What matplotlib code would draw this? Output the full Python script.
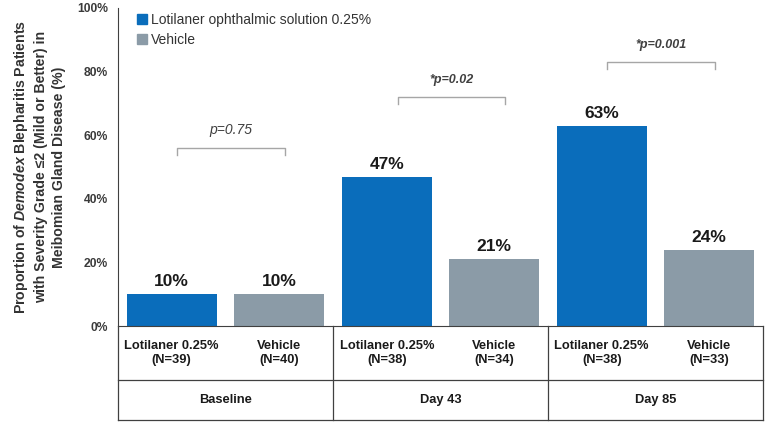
import matplotlib.pyplot as plt
from matplotlib.patches import Patch

plt.rcParams['font.family'] = ['Liberation Sans', 'DejaVu Sans']
plt.rcParams['mathtext.fontset'] = 'custom'
plt.rcParams['mathtext.bfit'] = 'Liberation Sans:italic:bold'
plt.rcParams['mathtext.rm'] = 'Liberation Sans'

# donnees
groupes = ['Baseline', 'Day 43', 'Day 85']
traitements = ['Lotilaner 0.25%', 'Vehicle']
lotilaner = [10, 47, 63]
vehicle = [10, 21, 24]
n_lotilaner = [39, 38, 38]
n_vehicle = [40, 34, 33]
p_valeurs = ['p=0.75', '*p=0.02', '*p=0.001']
p_significatif = [False, True, True]

bleu = '#0a6dbb'
gris = '#8b9ba7'
txt = '#1a1a1a'

fig = plt.figure(figsize=(7.67, 4.23), dpi=100)
ax = fig.add_axes([118/767, 97/423, 645/767, 318/423])

x_lot = [2*i + 0.5 for i in range(3)]
x_veh = [2*i + 1.5 for i in range(3)]
larg = 0.84

ax.bar(x_lot, lotilaner, width=larg, color=bleu, zorder=2)
ax.bar(x_veh, vehicle, width=larg, color=gris, zorder=2)

for x, v in zip(x_lot + x_veh, lotilaner + vehicle):
    ax.text(x, v + 1.5, '%d%%' % v, ha='center', va='bottom',
            fontsize=12.5, fontweight='bold', color=txt)

# crochets des p-values
decal = [0.05, 0.1, 0.05]
for i in range(3):
    h = max(lotilaner[i], vehicle[i]) + [46, 25, 20][i]
    x1 = x_lot[i] + decal[i]
    x2 = x_veh[i] + decal[i]
    ax.plot([x1, x1, x2, x2], [h - 2.2, h, h, h - 2.2], color='#a6a6a6', lw=1)
    ax.text((x1 + x2) / 2, h + 3.5, p_valeurs[i], ha='center', va='bottom',
            fontsize=9 if p_significatif[i] else 10, style='italic',
            fontweight='bold' if p_significatif[i] else 'normal', color='#404040')

ax.set_xlim(0, 6)
ax.set_ylim(0, 100)
ax.set_yticks(range(0, 101, 20))
ax.set_yticklabels(['%d%%' % v for v in range(0, 101, 20)],
                   fontsize=8.7, fontweight='bold', color='#3a3a3a')
ax.tick_params(axis='y', length=0, pad=7)
ax.set_xticks([])
for s in ['top', 'right']:
    ax.spines[s].set_visible(False)
ax.spines['left'].set_color('#404040')
ax.spines['bottom'].set_color('#404040')

ax.set_ylabel('Proportion of $\\mathbfit{Demodex}$ Blepharitis Patients\n'
              'with Severity Grade ≤2 (Mild or Better) in\nMeibomian Gland Disease (%)',
              fontsize=10.2, fontweight='bold', color='#333333', labelpad=8,
              linespacing=1.35)

leg = ax.legend(handles=[Patch(color=bleu, label='Lotilaner ophthalmic solution 0.25%'),
                         Patch(color=gris, label='Vehicle')],
                loc='upper left', bbox_to_anchor=(0.01, 1.025), frameon=False,
                fontsize=10, handlelength=0.7, handleheight=0.7, handletextpad=0.3,
                labelspacing=0.45)
for t in leg.get_texts():
    t.set_color('#333333')

# tableau sous le graphe (coordonnees donnees en x, axes en y)
trans = ax.get_xaxis_transform()
y_ligne = -54 / 318
y_bas = -94 / 318
kw = dict(color='#404040', lw=0.9, transform=trans, clip_on=False)
ax.plot([0, 6], [y_ligne, y_ligne], **kw)
ax.plot([0, 6], [y_bas, y_bas], **kw)
for xv in [0, 2, 4, 6]:
    ax.plot([xv, xv], [0, y_bas], **kw)

for i in range(3):
    ax.text(x_lot[i], -27 / 318, '%s\n(N=%d)' % (traitements[0], n_lotilaner[i]),
            ha='center', va='center', fontsize=9.3, fontweight='bold', color=txt,
            transform=trans, linespacing=1.3)
    ax.text(x_veh[i], -27 / 318, '%s\n(N=%d)' % (traitements[1], n_vehicle[i]),
            ha='center', va='center', fontsize=9.3, fontweight='bold', color=txt,
            transform=trans, linespacing=1.3)
    ax.text(2*i + 1, (y_ligne + y_bas) / 2, groupes[i], ha='center', va='center',
            fontsize=9.3, fontweight='bold', color=txt, transform=trans)

fig.savefig('out.png', dpi=100)
